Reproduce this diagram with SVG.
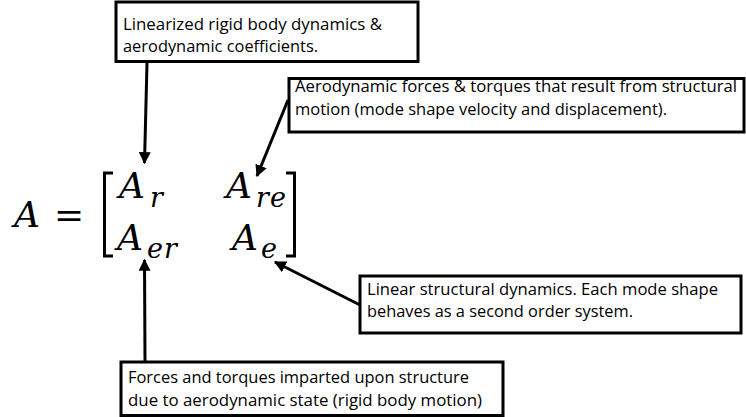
<svg xmlns="http://www.w3.org/2000/svg" width="746" height="417" viewBox="0 0 746 417">
  <style>
    .box { fill: #ffffff; stroke: #000000; stroke-width: 3; }
    .note { font-family: "Open Sans", "Noto Sans", sans-serif; font-size: 17px; fill: #000000; }
    .math { font-family: "DejaVu Serif", "Liberation Serif", serif; font-style: italic; fill: #000000; }
    .big { font-size: 36px; }
    .sub { font-size: 27px; letter-spacing: 1px; }
    .op { font-family: "DejaVu Serif", "Liberation Serif", serif; font-size: 36px; fill: #000000; }
    .bracket { fill: none; stroke: #000000; stroke-width: 3; }
    .link { fill: none; stroke: #000000; stroke-width: 3; marker-end: url(#head); }
  </style>
  <defs>
    <marker id="head" viewBox="0 0 10 10" refX="9" refY="5" markerWidth="4" markerHeight="4" orient="auto" markerUnits="strokeWidth">
      <path d="M0,0 L10,5 L0,10 Z" fill="#000000"/>
    </marker>
  </defs>

  <!-- matrix equation -->
  <g id="equation">
    <text class="math big" x="14" y="227">A</text>
    <text class="op" x="54" y="227">=</text>
    <path class="bracket" d="M113,173 L104.5,173 L104.5,256 L113,256"/>
    <path class="bracket" d="M286,173 L294.5,173 L294.5,256 L286,256"/>
    <text class="math big" x="119" y="198">A</text>
    <text class="math sub" x="150" y="207">r</text>
    <text class="math big" x="226" y="198">A</text>
    <text class="math sub" x="256" y="207">re</text>
    <text class="math big" x="117" y="250">A</text>
    <text class="math sub" x="147" y="258">er</text>
    <text class="math big" x="232" y="250">A</text>
    <text class="math sub" x="261" y="258">e</text>
  </g>

  <!-- connectors -->
  <g id="connectors">
    <line class="link" x1="147" y1="63" x2="144.5" y2="163"/>
    <line class="link" x1="288" y1="100" x2="257" y2="176"/>
    <line class="link" x1="360" y1="305" x2="275" y2="262"/>
    <line class="link" x1="145" y1="361" x2="144.5" y2="260"/>
  </g>

  <g id="note-rigid">
    <rect class="box" x="116" y="2" width="302" height="59.5"/>
    <text class="note" x="123" y="30" textLength="259" lengthAdjust="spacingAndGlyphs">Linearized rigid body dynamics &amp;</text>
    <text class="note" x="123" y="52" textLength="195" lengthAdjust="spacingAndGlyphs">aerodynamic coefficients.</text>
  </g>

  <g id="note-aero">
    <rect class="box" x="289" y="78.5" width="455" height="53.5"/>
    <text class="note" x="295" y="92" textLength="442" lengthAdjust="spacingAndGlyphs">Aerodynamic forces &amp; torques that result from structural</text>
    <text class="note" x="295" y="115" textLength="372" lengthAdjust="spacingAndGlyphs">motion (mode shape velocity and displacement).</text>
  </g>

  <g id="note-structural">
    <rect class="box" x="360" y="276" width="381" height="57"/>
    <text class="note" x="367" y="295" textLength="351" lengthAdjust="spacingAndGlyphs">Linear structural dynamics. Each mode shape</text>
    <text class="note" x="367" y="317" textLength="266" lengthAdjust="spacingAndGlyphs">behaves as a second order system.</text>
  </g>

  <g id="note-coupling">
    <rect class="box" x="121" y="362" width="382" height="53.5"/>
    <text class="note" x="128" y="383" textLength="341" lengthAdjust="spacingAndGlyphs">Forces and torques imparted upon structure</text>
    <text class="note" x="128" y="406" textLength="354" lengthAdjust="spacingAndGlyphs">due to aerodynamic state (rigid body motion)</text>
  </g>
</svg>
